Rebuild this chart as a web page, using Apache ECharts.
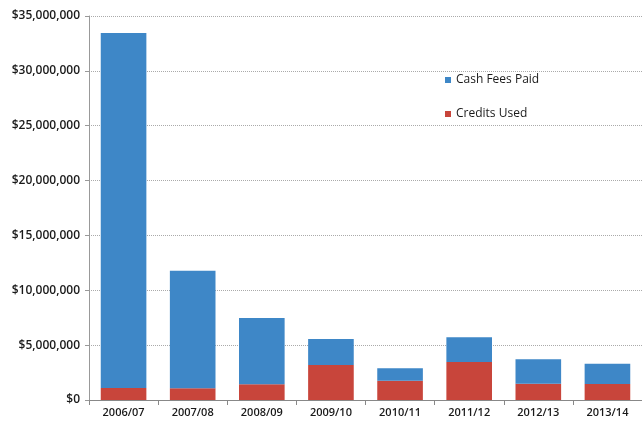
<!DOCTYPE html>
<html>
<head>
<meta charset="utf-8">
<script src="https://cdn.jsdelivr.net/npm/echarts@6/dist/echarts.min.js"></script>
<style>
  html, body { margin: 0; padding: 0; background: #fff; }
  #chart { width: 642px; height: 424px; }
</style>
</head>
<body>
<div id="chart"></div>
<script>
const years = ['2006/07', '2007/08', '2008/09', '2009/10', '2010/11', '2011/12', '2012/13', '2013/14'];
const creditsUsed = [1100000, 1070000, 1430000, 3190000, 1760000, 3460000, 1490000, 1460000];
const cashFeesPaid = [32350000, 10700000, 6050000, 2370000, 1130000, 2250000, 2220000, 1850000];

const fmtMoney = (v) => '$' + v.toLocaleString('en-US');

const chart = echarts.init(document.getElementById('chart'));
chart.setOption({
    animation: false,
    textStyle: { fontFamily: 'Open Sans, Liberation Sans, sans-serif' },
    grid: { left: 89, top: 16, width: 560, bottom: 24, containLabel: false },
    legend: {
        orient: 'vertical',
        left: 440,
        top: 69,
        itemWidth: 6,
        itemHeight: 6,
        itemGap: 22,
        icon: 'rect',
        textStyle: { fontSize: 12, color: '#1a1a1a' },
        data: ['Cash Fees Paid', 'Credits Used']
    },
    xAxis: {
        type: 'category',
        data: years,
        axisLine: { lineStyle: { color: '#888' } },
        axisTick: { show: true, lineStyle: { color: '#888' } },
        axisLabel: { fontSize: 11, fontWeight: 600, color: '#1a1a1a', margin: 7 }
    },
    yAxis: {
        type: 'value',
        min: 0,
        max: 35000000,
        interval: 5000000,
        axisLine: { show: true, lineStyle: { color: '#999' } },
        axisTick: { show: true, length: 4, lineStyle: { color: '#999' } },
        axisLabel: { fontSize: 12, fontWeight: 600, color: '#1a1a1a', margin: 9, formatter: fmtMoney },
        splitLine: { lineStyle: { color: '#aaa', type: 'dotted' } }
    },
    series: [
        {
            name: 'Credits Used',
            type: 'bar',
            stack: 'total',
            barWidth: '66%',
            itemStyle: { color: '#c8453b' },
            data: creditsUsed
        },
        {
            name: 'Cash Fees Paid',
            type: 'bar',
            stack: 'total',
            barWidth: '66%',
            itemStyle: { color: '#3e87c7' },
            data: cashFeesPaid
        }
    ]
});
</script>
</body>
</html>
